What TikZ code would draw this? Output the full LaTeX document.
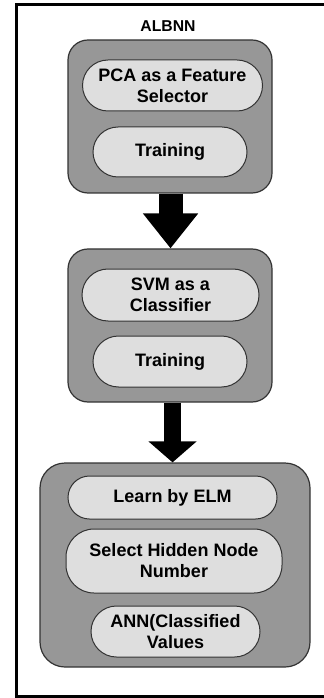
\documentclass[tikz,border=0pt]{standalone}
\usepackage{fontspec}
\setmainfont{Liberation Sans}
\usetikzlibrary{shapes.misc,arrows.meta}
\definecolor{outergray}{HTML}{979797}
\definecolor{innergray}{HTML}{DEDEDE}
\definecolor{edgegray}{HTML}{333333}
\begin{document}
\begin{tikzpicture}[x=0.75pt,y=-0.75pt,
  outerbox/.style={draw=edgegray,line width=0.9pt,fill=outergray,rounded corners=15pt,inner sep=0pt},
  innerbox/.style={rounded rectangle,draw=edgegray,line width=0.75pt,fill=innergray,inner sep=0pt,align=center,
    font=\fontsize{13.5}{15.75}\selectfont\bfseries},
  sqbox/.style={draw=edgegray,line width=0.75pt,fill=innergray,inner sep=0pt,align=center,rounded corners=21pt,
    font=\fontsize{13.5}{15.75}\selectfont\bfseries},
  titletext/.style={font=\fontsize{11.8}{13}\selectfont\bfseries,inner sep=0pt}]
\useasboundingbox (0,0) rectangle (324,698);
\draw[line width=2.25pt] (16.5,4.5) -- (340,4.5) (16.5,3.4) -- (16.5,696.5) (15.4,696.5) -- (340,696.5);
\node[titletext] (title) at (168,26.5) {ALBNN};
% box 1
\node[outerbox,minimum width=153pt,minimum height=114.75pt] (b1) at (170,116.5) {};
\node[innerbox,minimum width=135pt,minimum height=38.25pt] (pca) at (172.5,85.5) {PCA as a Feature\\Selector};
\node[innerbox,minimum width=115.5pt,minimum height=37.5pt] (tr1) at (170,152) {Training};
% box 2
\node[outerbox,minimum width=153pt,minimum height=114.75pt] (b2) at (170,325.5) {};
\node[innerbox,minimum width=132.75pt,minimum height=39pt] (svm) at (170.5,295) {SVM as a\\Classifier};
\node[innerbox,minimum width=115.5pt,minimum height=38.25pt] (tr2) at (170,361.5) {Training};
% box 3
\node[outerbox,rounded corners=18.75pt,minimum width=202.5pt,minimum height=153pt] (b3) at (175,565) {};
\node[innerbox,minimum width=156.75pt,minimum height=32.25pt] (elm) at (172.5,497.5) {Learn by ELM};
\node[sqbox,minimum width=162pt,minimum height=48pt] (sel) at (174,561) {Select Hidden Node\\Number};
\node[innerbox,minimum width=126.75pt,minimum height=38.25pt] (ann) at (175.5,631.5) {ANN(Classified\\Values};
% arrows
\draw[line width=18pt,-{Triangle[width=39.75pt,length=26.25pt]}] ([xshift=0.4pt]b1.south) -- ([xshift=0.4pt]b1.south |- b2.north);
\draw[line width=12.75pt,-{Triangle[width=35.25pt,length=15.75pt]}] ([xshift=1.9pt]b2.south) -- ([xshift=1.9pt]b2.south |- b3.north);
\end{tikzpicture}
\end{document}
